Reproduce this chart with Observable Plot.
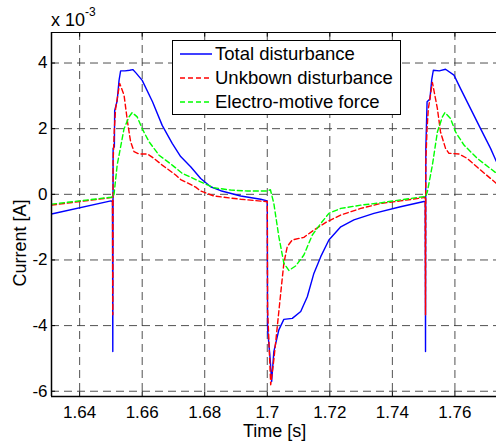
<!DOCTYPE html>
<html><head><meta charset="utf-8">
<script src="https://cdn.jsdelivr.net/npm/d3@7"></script>
<script src="https://cdn.jsdelivr.net/npm/@observablehq/plot@0.6"></script>
<style>
body{margin:0;background:#fff;}
#wrap{position:relative;width:496px;height:446px;overflow:hidden;font-family:"Liberation Sans",Arial,Helvetica,sans-serif;color:#000;}
.lbl{position:absolute;white-space:nowrap;line-height:1;}
#legend{position:absolute;left:172px;top:40px;width:227px;height:73px;border:1.5px solid #000;background:#fff;}
.row{position:absolute;left:0;height:20px;}
.row svg{position:absolute;left:7px;top:4px;}
.row span{position:absolute;left:42px;top:0;font-size:18.5px;line-height:20px;white-space:nowrap;}
</style></head><body><div id="wrap"></div>
<script>
// axis ticks
const xTicks = [1.64, 1.66, 1.68, 1.70, 1.72, 1.74, 1.76];
const yTicks = [-6, -4, -2, 0, 2, 4];
const xDomain = [1.631, 1.7733];
const yDomain = [-6.16, 4.93];

// series names
const seriesNames = ["Total disturbance", "Unkbown disturbance", "Electro-motive force"];

// Total disturbance (values in 1e-3 A)
const tTotal = [1.631,1.650,1.6505,1.6506,1.6507,1.6511,1.6512,1.6520,1.6526,1.6531,1.6545,1.6560,1.6570,1.6580,1.6600,1.6633,1.6664,1.6696,1.6723,1.6755,1.6787,1.6819,1.6851,1.6915,1.6979,1.7000,1.7001,1.7009,1.7014,1.7021,1.7037,1.7053,1.7080,1.7107,1.7128,1.7149,1.7171,1.7197,1.7235,1.7277,1.7341,1.7426,1.7501,1.7505,1.7506,1.7507,1.7511,1.7520,1.7526,1.7531,1.7550,1.7570,1.7597,1.7618,1.7650,1.7682,1.7714,1.7733];
const iTotal = [-0.60,-0.20,-0.22,-4.79,1.40,1.45,2.55,2.85,3.47,3.76,3.76,3.78,3.80,3.70,3.47,2.82,2.10,1.55,1.15,0.84,0.48,0.23,0.11,-0.05,-0.15,-0.20,-4.10,-5.00,-5.70,-4.79,-4.13,-3.81,-3.78,-3.57,-3.12,-2.41,-1.90,-1.39,-0.99,-0.78,-0.58,-0.38,-0.22,-0.22,-4.79,1.40,2.82,2.90,3.50,3.78,3.76,3.81,3.63,3.22,2.61,2.00,1.40,0.99];

// Unkbown disturbance
const tUnknown = [1.631,1.650,1.6505,1.6506,1.6507,1.6511,1.6515,1.6528,1.6542,1.6553,1.6563,1.6574,1.6590,1.6617,1.6638,1.6664,1.6707,1.6723,1.6771,1.6787,1.6829,1.6915,1.6995,1.7000,1.7001,1.7011,1.7021,1.7032,1.7043,1.7053,1.7064,1.7080,1.7117,1.7149,1.7192,1.7235,1.7299,1.7362,1.7426,1.7501,1.7505,1.7506,1.7507,1.7511,1.7515,1.7528,1.7544,1.7554,1.7570,1.7581,1.7613,1.7640,1.7682,1.7733];
const iUnknown = [-0.33,-0.10,-0.10,-3.67,1.00,2.00,2.60,3.38,3.02,2.21,1.60,1.30,1.23,1.23,1.09,0.89,0.59,0.45,0.22,0.10,-0.05,-0.15,-0.22,-0.22,-3.50,-5.80,-5.04,-4.03,-3.01,-2.10,-1.59,-1.39,-1.31,-1.09,-0.83,-0.63,-0.43,-0.28,-0.20,-0.10,-0.10,-3.67,1.00,2.00,2.60,3.41,2.61,1.90,1.40,1.25,1.23,1.09,0.74,0.33];

// Electro-motive force
const tEmf = [1.631,1.650,1.6506,1.6510,1.6520,1.6542,1.6558,1.6568,1.6584,1.6600,1.6622,1.6654,1.6696,1.6728,1.6787,1.6829,1.6883,1.6936,1.7000,1.7010,1.7021,1.7037,1.7053,1.7069,1.7091,1.7117,1.7144,1.7171,1.7197,1.7235,1.7299,1.7362,1.7426,1.7501,1.7506,1.7512,1.7528,1.7544,1.7560,1.7568,1.7586,1.7602,1.7629,1.7672,1.7733];
const iEmf = [-0.30,-0.09,-0.08,0.00,0.89,2.00,2.36,2.49,2.36,2.00,1.60,1.19,0.89,0.64,0.38,0.20,0.13,0.10,0.10,0.14,-0.28,-1.29,-2.10,-2.32,-2.18,-1.85,-1.24,-0.89,-0.58,-0.43,-0.33,-0.26,-0.17,-0.07,-0.08,0.08,0.89,1.90,2.36,2.49,2.31,1.90,1.50,1.09,0.64];

const colors = ["#0000ff", "#ff0000", "#00ff00"];
const dashes = [null, "5,3", "5,3"];

const toRows = (ts, vs, s) => ts.map((t, i) => ({t, v: vs[i], series: s}));
const rows = [
  toRows(tTotal, iTotal, seriesNames[0]),
  toRows(tUnknown, iUnknown, seriesNames[1]),
  toRows(tEmf, iEmf, seriesNames[2])
];

const gridStyle = {stroke: "#333", strokeOpacity: 0.85, strokeWidth: 1, strokeDasharray: "8,5"};

const chart = Plot.plot({
  width: 496, height: 446,
  marginLeft: 51, marginTop: 32, marginBottom: 50, marginRight: 0,
  x: {domain: xDomain},
  y: {domain: yDomain},
  style: {fontFamily: '"Liberation Sans", Arial, Helvetica, sans-serif', fontSize: "17px", color: "#000", background: "transparent", overflow: "visible"},
  marks: [
    Plot.gridX(xTicks, gridStyle),
    Plot.gridY(yTicks, gridStyle),
    ...rows.map((r, i) => Plot.line(r, {x: "t", y: "v", stroke: colors[i], strokeWidth: 1.4, strokeDasharray: dashes[i], clip: true})),
    Plot.ruleX(xTicks, {y1: yDomain[0], y2: yDomain[0] + 0.14, stroke: "#000", strokeWidth: 1}),
    Plot.ruleX(xTicks, {y1: yDomain[1], y2: yDomain[1] - 0.14, stroke: "#000", strokeWidth: 1}),
    Plot.ruleY(yTicks, {x1: xDomain[0], x2: xDomain[0] + 0.0013, stroke: "#000", strokeWidth: 1}),
    Plot.ruleX([xDomain[0]], {stroke: "#000", strokeWidth: 1.5}),
    Plot.ruleY([yDomain[0]], {stroke: "#000", strokeWidth: 1.5}),
    Plot.ruleY([yDomain[1]], {stroke: "#000", strokeWidth: 1.2}),
    Plot.axisX(xTicks, {tickSize: 0, tickPadding: 9, tickFormat: d => String(d), label: null, fontSize: 17}),
    Plot.axisY(yTicks, {tickSize: 0, tickPadding: 4, tickFormat: d => String(d), label: null, fontSize: 17})
  ]
});

const wrap = document.getElementById("wrap");
wrap.appendChild(chart);

function addLabel(html, css) {
  const d = document.createElement("div");
  d.className = "lbl";
  d.innerHTML = html;
  Object.assign(d.style, css);
  wrap.appendChild(d);
  return d;
}
// exponent label
addLabel('x 10<sup style="font-size:12px;position:relative;top:-3px;">-3</sup>', {left: "51px", top: "9px", fontSize: "18px"});
// x label
addLabel("Time [s]", {left: "243px", top: "422px", fontSize: "18px"});
// y label
addLabel("Current [A]", {left: "20px", top: "243px", fontSize: "18px", transform: "translate(-50%,-50%) rotate(-90deg)"});

// legend
const leg = document.createElement("div");
leg.id = "legend";
seriesNames.forEach((name, i) => {
  const row = document.createElement("div");
  row.className = "row";
  row.style.top = (3 + i * 24) + "px";
  row.innerHTML = `<svg width="32" height="12"><line x1="0" y1="6" x2="32" y2="6" stroke="${colors[i]}" stroke-width="1.5" ${dashes[i] ? `stroke-dasharray="${dashes[i]}"` : ""}/></svg><span>${name}</span>`;
  leg.appendChild(row);
});
wrap.appendChild(leg);
</script>
</body></html>
